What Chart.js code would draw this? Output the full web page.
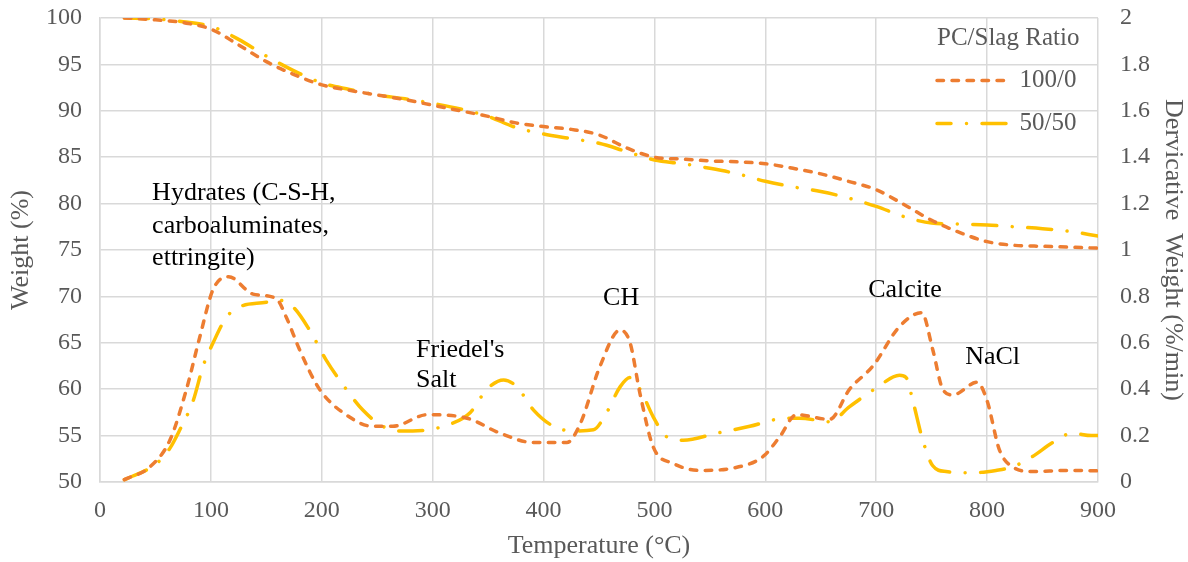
<!DOCTYPE html>
<html>
<head>
<meta charset="utf-8">
<script src="https://cdn.jsdelivr.net/npm/chart.js@4.4.1/dist/chart.umd.min.js"></script>
<style>
body { margin: 0; background: #fff; }
#box { width: 1188px; height: 562px; }
</style>
</head>
<body>
<div id="box"><canvas id="tgaCanvas"></canvas></div>
<script>
// weight curves (left axis)
const tempW = [22,50,75,100,125,150,175,200,225,250,275,300,325,350,375,400,425,450,475,500,525,550,575,600,625,650,675,700,725,750,775,800,825,850,875,900];
const weight100 = [100,99.8,99.5,98.8,97.1,95.3,93.9,92.8,92.2,91.7,91.2,90.6,90.0,89.4,88.7,88.3,88.0,87.4,86.0,85.0,84.8,84.6,84.5,84.3,83.8,83.2,82.4,81.5,79.9,78.2,76.9,75.9,75.5,75.4,75.3,75.2];
const weight5050 = [100,99.9,99.6,99.1,97.7,95.9,94.3,93.0,92.3,91.7,91.3,90.8,90.2,89.4,88.2,87.5,87.0,86.5,85.6,84.7,84.3,83.8,83.2,82.4,81.8,81.3,80.6,79.7,78.6,77.9,77.8,77.7,77.5,77.3,77.0,76.5];

// derivative curves (right axis)
const tempD100 = [22,45,63,78,90,102,116,138,159,168,180,198,225,246,264,295,331,361,391,421,433,451,469,478,487,499,517,541,571,598,613,628,658,676,697,721,741,751,760,769,791,800,811,823,841,872,900];
const deriv100 = [0.01,0.065,0.18,0.40,0.625,0.83,0.885,0.81,0.79,0.71,0.57,0.40,0.28,0.24,0.24,0.29,0.275,0.21,0.17,0.17,0.25,0.50,0.655,0.60,0.38,0.15,0.08,0.05,0.06,0.11,0.195,0.29,0.27,0.40,0.50,0.67,0.73,0.57,0.40,0.375,0.43,0.35,0.14,0.065,0.045,0.05,0.048];
const tempD5050 = [22,51,63,72,84,93,102,114,126,150,159,174,189,204,222,237,255,270,282,316,334,349,364,376,391,409,427,445,457,469,478,487,499,511,526,556,586,610,631,658,676,700,721,727,733,742,751,763,787,808,823,841,859,877,894,900];
const deriv5050 = [0.01,0.08,0.145,0.225,0.35,0.50,0.60,0.71,0.755,0.775,0.785,0.755,0.655,0.525,0.40,0.31,0.24,0.22,0.22,0.25,0.30,0.40,0.44,0.41,0.31,0.24,0.22,0.225,0.30,0.41,0.45,0.40,0.28,0.195,0.18,0.21,0.24,0.27,0.275,0.26,0.325,0.405,0.46,0.45,0.35,0.18,0.07,0.045,0.04,0.05,0.065,0.11,0.17,0.21,0.20,0.20];

// peak labels, placed in axis units (temperature, weight %)
const noteText = ["Hydrates (C-S-H,", "carboaluminates,", "ettringite)", "Friedel's", "Salt", "CH", "Calcite", "NaCl"];
const noteX = [47, 47, 47, 285, 285, 470, 726, 805];
const noteY = [81.1, 77.6, 74.1, 64.2, 61.0, 69.8, 70.7, 63.4];
const noteAlign = ["left", "left", "left", "left", "left", "center", "center", "center"];

const serif = "'Times New Roman', 'Liberation Serif', serif";
const gris = "#595959";
const orange = "#ED7D31";
const jaune = "#FFC000";
const tiretOrange = [6.5, 8.5];
const tiretJaune = [24, 15.5, 0.01, 15.5];

function pts(xs, ys) {
    return xs.map((x, i) => ({x: x, y: ys[i]}));
}

function courbe(label, xs, ys, axe, couleur, tiret) {
    return {
        label: label,
        data: pts(xs, ys),
        yAxisID: axe,
        borderColor: couleur,
        borderWidth: 3.5,
        borderDash: tiret,
        borderCapStyle: "round",
        pointRadius: 0,
        cubicInterpolationMode: "monotone"
    };
}

const notesPlugin = {
    id: "notes",
    afterLayout(chart) {
        // legend sits inside the plot, top right
        const lg = chart.legend;
        const ca = chart.chartArea;
        const w = lg.width, h = lg.height;
        lg.left = ca.right - 179;
        lg.right = lg.left + w;
        lg.top = ca.top + 32;
        lg.bottom = lg.top + h;
    },
    afterDraw(chart) {
        const ctx = chart.ctx;
        const sx = chart.scales.x, sy = chart.scales.y;
        ctx.save();
        ctx.font = "26px " + serif;
        ctx.fillStyle = "#000";
        ctx.textBaseline = "middle";
        noteText.forEach((t, i) => {
            ctx.textAlign = noteAlign[i];
            ctx.fillText(t, sx.getPixelForValue(noteX[i]), sy.getPixelForValue(noteY[i]));
        });
        const lg = chart.legend;
        ctx.font = "25px " + serif;
        ctx.fillStyle = gris;
        ctx.textAlign = "left";
        ctx.fillText("PC/Slag Ratio", lg.left + 18, chart.chartArea.top + 20);
        ctx.restore();
    }
};

const tgaCanvas = document.getElementById("tgaCanvas");
const tgaChart = new Chart(tgaCanvas, {
    type: "line",
    data: {
        datasets: [
            courbe("100/0", tempW, weight100, "y", orange, tiretOrange),
            courbe("50/50", tempW, weight5050, "y", jaune, tiretJaune),
            courbe("100/0 dTG", tempD100, deriv100, "y2", orange, tiretOrange),
            courbe("50/50 dTG", tempD5050, deriv5050, "y2", jaune, tiretJaune)
        ]
    },
    options: {
        responsive: true,
        maintainAspectRatio: false,
        animation: false,
        layout: { padding: { left: 6, right: 0, top: 18, bottom: 0 } },
        scales: {
            x: {
                type: "linear",
                min: 0,
                max: 900,
                ticks: { stepSize: 100, color: gris, font: { family: serif, size: 24 }, padding: 14 },
                grid: { color: "#d9d9d9", lineWidth: 1.5, drawTicks: false },
                border: { color: "#d9d9d9", width: 1.5 },
                title: { display: true, text: "Temperature (°C)", color: gris, font: { family: serif, size: 26 }, padding: { top: 0, bottom: 0 } },
                afterFit: (s) => { s.height = 80; }
            },
            y: {
                position: "left",
                min: 50,
                max: 100,
                ticks: { stepSize: 5, color: gris, font: { family: serif, size: 24 }, padding: 18 },
                grid: { color: "#d9d9d9", lineWidth: 1.5, drawTicks: false },
                border: { color: "#d9d9d9", width: 1.5 },
                title: { display: true, text: "Weight (%)", color: gris, font: { family: serif, size: 26 }, padding: { top: 0, bottom: 0 } },
                afterFit: (s) => { s.width = 94; s.paddingTop = 0; s.paddingBottom = 0; }
            },
            y2: {
                position: "right",
                min: 0,
                max: 2,
                ticks: {
                    stepSize: 0.2,
                    color: gris,
                    font: { family: serif, size: 24 },
                    padding: 22,
                    callback: (v) => String(Math.round(v * 10) / 10)
                },
                grid: { drawOnChartArea: false, drawTicks: false },
                border: { display: false },
                title: { display: true, text: "Dervicative  Weight (%/min)", color: gris, font: { family: serif, size: 26 }, padding: { top: 0, bottom: 0 } },
                afterFit: (s) => { s.width = 90; s.paddingTop = 0; s.paddingBottom = 0; }
            }
        },
        plugins: {
            legend: {
                position: "chartArea",
                align: "start",
                labels: {
                    usePointStyle: true,
                    pointStyle: "line",
                    pointStyleWidth: 70,
                    color: gris,
                    font: { family: serif, size: 25 },
                    padding: 18,
                    generateLabels: (chart) => {
                        const items = Chart.defaults.plugins.legend.labels.generateLabels(chart);
                        return items.filter((it) => it.datasetIndex < 2).map((it) => {
                            const ds = chart.data.datasets[it.datasetIndex];
                            it.strokeStyle = ds.borderColor;
                            it.lineWidth = ds.borderWidth;
                            it.lineDash = ds.borderDash;
                            it.lineDashOffset = it.datasetIndex === 1 ? 10 : 0;
                            it.lineCap = "round";
                            it.pointStyle = "line";
                            return it;
                        });
                    }
                }
            },
            tooltip: { enabled: false }
        }
    },
    plugins: [notesPlugin]
});
</script>
</body>
</html>
